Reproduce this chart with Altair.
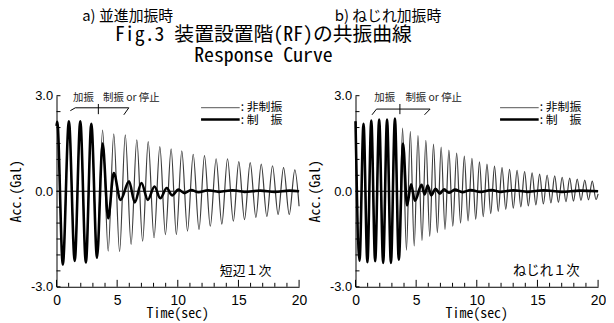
import altair as alt
import pandas as pd

# ---------------- data (extrema of each trace) ----------------
# a) 並進加振時 : 非制振 (uncontrolled)
A_UNC_T = [0.00, 0.06, 0.52, 1.02, 1.50, 1.96, 2.42, 2.87, 3.34, 3.80, 4.26, 4.72, 5.20, 5.67,
           6.15, 6.62, 7.10, 7.56, 8.04, 8.52, 8.98, 9.45, 9.88, 10.33, 10.80, 11.27, 11.75,
           12.20, 12.68, 13.16, 13.63, 14.10, 14.58, 15.03, 15.50, 15.97, 16.44, 16.88, 17.34,
           17.81, 18.27, 18.72, 19.19, 19.65, 20.00]
A_UNC_V = [2.05, 2.18, -2.30, 2.20, -2.19, 2.20, -2.24, 2.12, -2.09, 1.92, -1.88, 1.80, -1.90,
           1.77, -1.67, 1.61, -1.57, 1.56, -1.46, 1.40, -1.36, 1.33, -1.36, 1.27, -1.25, 1.16,
           -1.20, 1.12, -1.10, 1.02, -1.03, 1.02, -0.94, 0.93, -0.89, 0.90, -0.82, 0.85, -0.79,
           0.80, -0.73, 0.74, -0.73, 0.67, -0.47]
# a) 制振 (controlled)
A_CTL_T = [0.00, 0.06, 0.52, 1.02, 1.50, 1.96, 2.42, 2.87, 3.34, 3.80, 4.26, 4.72, 5.28, 5.98,
           6.45, 7.00, 7.53, 8.08, 8.55, 9.09, 9.53, 10.05, 10.55, 11.10, 11.70, 12.50, 13.40,
           14.50, 15.50, 16.80, 18.00, 19.20, 20.00]
A_CTL_V = [2.05, 2.18, -2.30, 2.20, -2.19, 2.20, -2.24, 2.12, -2.09, 1.50, -0.85, 0.57, -0.27,
           0.31, -0.35, 0.26, -0.27, 0.15, -0.22, 0.10, -0.13, 0.05, -0.06, 0.04, -0.03, 0.03,
           -0.02, 0.03, -0.02, 0.02, -0.02, 0.02, 0.00]

# b) ねじれ加振時 : 非制振
B_UNC_T = [0.00, 0.33, 0.66, 0.98, 1.30, 1.62, 1.95, 2.28, 2.60, 2.92, 3.25, 3.57, 3.88, 4.20,
           4.52, 4.84, 5.15, 5.48, 5.80, 6.12, 6.43, 6.75, 7.06, 7.38, 7.70, 8.02, 8.34, 8.66,
           8.97, 9.28, 9.60, 9.91, 10.22, 10.53, 10.84, 11.15, 11.46, 11.77, 12.08, 12.39,
           12.70, 13.01, 13.32, 13.63, 13.94, 14.25, 14.56, 14.87, 15.18, 15.49, 15.80, 16.11,
           16.42, 16.73, 17.04, 17.35, 17.66, 17.97, 18.28, 18.59, 18.90, 19.21, 19.52, 19.83,
           20.00]
B_UNC_V = [2.20, -2.18, 2.12, -2.23, 2.22, -2.20, 2.25, -2.25, 2.25, -2.25, 2.28, -2.15, 1.98,
           -1.85, 1.88, -1.72, 1.75, -1.55, 1.60, -1.42, 1.48, -1.30, 1.39, -1.20, 1.29, -1.10,
           1.20, -1.00, 1.10, -0.93, 1.03, -0.88, 0.92, -0.80, 0.85, -0.70, 0.79, -0.63, 0.74,
           -0.57, 0.69, -0.53, 0.66, -0.49, 0.62, -0.46, 0.58, -0.43, 0.54, -0.40, 0.51, -0.37,
           0.48, -0.35, 0.44, -0.33, 0.41, -0.31, 0.38, -0.29, 0.35, -0.27, 0.32, -0.26, -0.08]
# b) 制振
B_CTL_T = [0.00, 0.33, 0.66, 0.98, 1.30, 1.62, 1.95, 2.28, 2.60, 2.92, 3.25, 3.57, 3.92, 4.25,
           4.58, 4.90, 5.45, 5.70, 5.95, 6.25, 6.60, 6.95, 7.30, 7.70, 8.20, 8.80, 9.50, 10.30,
           11.20, 12.00, 13.00, 14.20, 15.50, 17.00, 18.50, 20.00]
B_CTL_V = [2.20, -2.18, 2.12, -2.23, 2.22, -2.20, 2.25, -2.25, 2.25, -2.25, 2.28, -2.15, 1.50,
           -0.45, 0.22, -0.30, 0.20, -0.10, 0.18, -0.13, 0.08, -0.08, 0.06, -0.05, 0.05, -0.03,
           0.04, -0.02, 0.04, -0.02, 0.03, -0.02, 0.03, -0.02, 0.02, 0.00]

# axis ticks / labels
X_LABELS = [0, 5, 10, 15, 20]
X_TICKS = list(range(0, 21))
Y_LABELS = [-3.0, 0.0, 3.0]
Y_TICKS = [-3.0, -2.5, -2.0, -1.5, -1.0, -0.5, 0.0, 0.5, 1.0, 1.5, 2.0, 2.5, 3.0]
ZERO = [0.0]

# texts
SERIES = ["非制振", "制振"]
LEGEND_LABELS = [": 非制振", ": 制　振"]
TITLE_A = "a) 並進加振時"
TITLE_B = "b) ねじれ加振時"
MAIN_TITLE = "Fig.3 装置設置階(RF)の共振曲線"
SUB_TITLE = "Response Curve"
MODE_A = "短辺１次"
MODE_B = "ねじれ１次"
Y_TITLE = "Acc.(Gal)"
X_TITLE = "Time(sec)"
ANN_TEXT = ["加振", "制振 or 停止"]

# annotation bracket (time of excitation / control switch) per panel
ANN_A = {"bracket_t": [1.14, 1.55, 5.96, 5.55], "bracket_v": [2.53, 2.62, 2.62, 2.40],
         "switch": 3.45, "text_t": [1.36, 3.84]}
ANN_B = {"bracket_t": [1.36, 1.73, 6.15, 5.69], "bracket_v": [2.40, 2.58, 2.58, 2.40],
         "switch": 3.66, "text_t": [1.55, 4.12]}

# ---------------- styling ----------------
W, H = 245, 193
MONO = "Noto Sans Mono CJK JP, Noto Sans CJK JP, DejaVu Sans Mono"
CJK = "Noto Sans CJK JP"
SANS = "Liberation Sans, Arial"
UNC_COLOR = "#3c3c3c"
LEG_UNC_COLOR = "#777777"

LABEL_EXPR = "datum.value < 0 ? '-' + format(-datum.value, '.1f') : format(datum.value, '.1f')"


def enc_x():
    return alt.X("t:Q", scale=alt.Scale(domain=[0, 20], nice=False),
                 axis=alt.Axis(values=X_LABELS, ticks=False, grid=False, title=None,
                               labelFont=SANS, labelFontSize=14, labelColor="black",
                               labelPadding=7, domainColor="black", domainWidth=1,
                               labelFlush=False))


def enc_y():
    return alt.Y("v:Q", scale=alt.Scale(domain=[-3, 3], nice=False),
                 axis=alt.Axis(values=Y_LABELS, ticks=False, grid=False, title=None,
                               labelFont=SANS, labelFontSize=13, labelColor="black",
                               labelPadding=4, labelExpr=LABEL_EXPR, domainColor="black",
                               domainWidth=1, labelFlush=False))


def text_layer(txt, x, y, size, font=MONO, align="center", angle=0):
    kw = dict(fontSize=size, font=font, align=align, baseline="middle", color="black")
    if angle:
        kw["angle"] = angle
    return alt.Chart(pd.DataFrame({"txt": [txt]})).mark_text(**kw).encode(
        text="txt:N", x=alt.value(x), y=alt.value(y))


def panel(unc_t, unc_v, ctl_t, ctl_v, ann, mode_label, mode_x, mode_size, title, title_x, extra):
    d_unc = pd.DataFrame({"t": unc_t, "v": unc_v, "o": range(len(unc_t))})
    d_ctl = pd.DataFrame({"t": ctl_t, "v": ctl_v, "o": range(len(ctl_t))})

    zero = alt.Chart(pd.DataFrame({"v": ZERO})).mark_rule(color="black", strokeWidth=1).encode(y=enc_y())
    unc = alt.Chart(d_unc).mark_line(interpolate="monotone", color=UNC_COLOR, strokeWidth=1.2).encode(
        x=enc_x(), y=enc_y(), order="o:Q")
    ctl = alt.Chart(d_ctl).mark_line(interpolate="monotone", color="black", strokeWidth=2.6).encode(
        x=enc_x(), y=enc_y(), order="o:Q")

    minor_x = [t for t in X_TICKS if t % 5 != 0]
    major_x = [t for t in X_TICKS if t % 5 == 0]
    xt_minor = alt.Chart(pd.DataFrame({"t": minor_x})).mark_rule(color="black").encode(
        x=enc_x(), y=alt.value(H), y2=alt.value(H - 4))
    xt_major = alt.Chart(pd.DataFrame({"t": major_x})).mark_rule(color="black").encode(
        x=enc_x(), y=alt.value(H), y2=alt.value(H - 7))
    yt = alt.Chart(pd.DataFrame({"v": Y_TICKS})).mark_rule(color="black").encode(
        y=enc_y(), x=alt.value(0), x2=alt.value(4))

    # annotation bracket
    d_br = pd.DataFrame({"t": ann["bracket_t"], "v": ann["bracket_v"], "o": range(4)})
    br = alt.Chart(d_br).mark_line(color="black", strokeWidth=1).encode(x=enc_x(), y=enc_y(), order="o:Q")
    sw = alt.Chart(pd.DataFrame({"t": [ann["switch"]], "v": [2.42], "v2": [2.74]})).mark_rule(
        color="black", strokeWidth=1).encode(x=enc_x(), y=enc_y(), y2="v2:Q")
    ann_txt = alt.Chart(pd.DataFrame({"t": ann["text_t"], "v": [2.93, 2.93], "txt": ANN_TEXT})).mark_text(
        align="left", baseline="middle", font=CJK, fontSize=10.5, color="#222").encode(
        x=enc_x(), y=enc_y(), text="txt:N")

    # legend (manual, two entries)
    leg = [
        alt.Chart(pd.DataFrame({"s": [SERIES[0]]})).mark_rule(color=LEG_UNC_COLOR, strokeWidth=1.2).encode(
            x=alt.value(146), x2=alt.value(185), y=alt.value(12)),
        alt.Chart(pd.DataFrame({"s": [SERIES[1]]})).mark_rule(color="black", strokeWidth=2.6).encode(
            x=alt.value(146), x2=alt.value(185), y=alt.value(24)),
        text_layer(LEGEND_LABELS[0], 186, 11.5, 12, font=CJK, align="left"),
        text_layer(LEGEND_LABELS[1], 186, 25, 12, font=CJK, align="left"),
    ]

    texts = [
        text_layer(mode_label, mode_x, 177, mode_size, font=CJK, align="left"),
        text_layer(Y_TITLE, -40, H / 2, 14, angle=270),
        text_layer(X_TITLE, W / 2, H + 28, 14),
        text_layer(title, title_x, -80, 15, font=CJK, align="left"),
    ] + extra

    return alt.layer(zero, unc, ctl, xt_minor, xt_major, yt, br, sw, ann_txt, *leg, *texts).properties(
        width=W, height=H)


left = panel(A_UNC_T, A_UNC_V, A_CTL_T, A_CTL_V, ANN_A, MODE_A, 165, 13, TITLE_A, 26,
             [text_layer(MAIN_TITLE, 209, -61, 20), text_layer(SUB_TITLE, 209, -40, 20)])
right = panel(B_UNC_T, B_UNC_V, B_CTL_T, B_CTL_V, ANN_B, MODE_B, 159, 13.5, TITLE_B, -21, [])

chart = alt.hconcat(left, right, spacing=57, bounds="flush").properties(
    padding={"left": 2, "top": 0, "right": 0, "bottom": 0},
    background="white",
).configure_view(strokeWidth=0)

chart.save("out.html", embed_options={"renderer": "svg", "actions": False})
